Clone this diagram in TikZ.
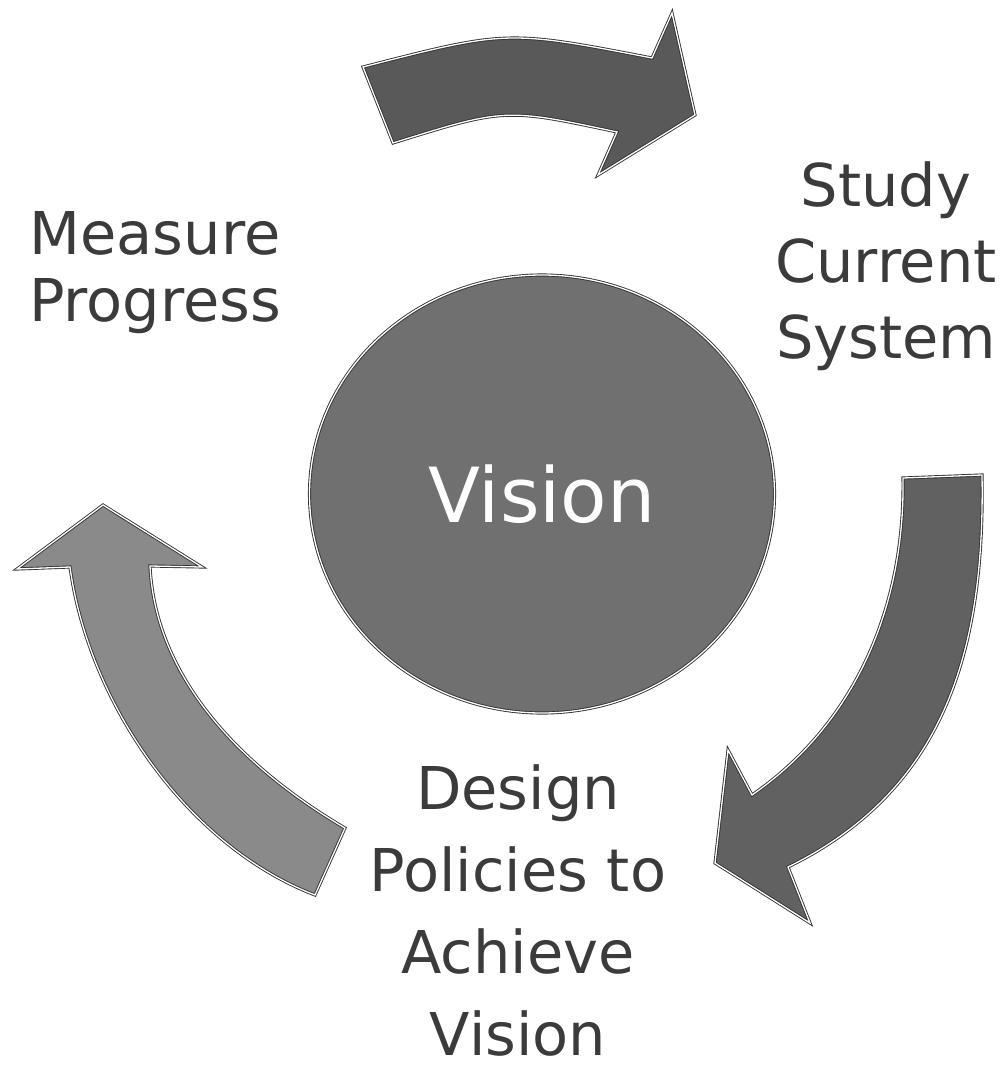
\documentclass[tikz,border=0pt]{standalone}
\usepackage{fontspec}
\setmainfont{DejaVu Sans}
\usepackage{tikz}
\usetikzlibrary{shapes.geometric}

\begin{document}
\begin{tikzpicture}[x=1pt,y=-1pt,
	cyclearrow/.style={draw=black!80,double=white,double distance=1.3pt,line width=0.9pt},
	steplabel/.style={text=black!77,align=center,inner sep=0pt,anchor=north}]
	\useasboundingbox (0,0) rectangle (1008,1073);
	% top arrow
	\path[cyclearrow,fill=black!65] (363,67) .. controls (507,30) .. (652,58) -- (672,13) -- (695,115) -- (598,175) -- (617,132) .. controls (505,108) .. (393,143) -- cycle;
	% right arrow
	\path[cyclearrow,fill=black!62] (903,478) -- (982,475) .. controls (985,650) and (945,790) .. (788,867) -- (810,923) -- (715,863) -- (728,750) -- (752,795) .. controls (860,720) and (905,600) .. (903,478) -- cycle;
	% left arrow
	\path[cyclearrow,fill=black!46] (103,505) -- (17,569) -- (70,567) .. controls (88,700) and (185,845) .. (315,895) -- (345,828) .. controls (230,760) and (155,670) .. (150,566) -- (202,567) -- cycle;
	\node[ellipse,cyclearrow,fill=black!56,minimum width=465pt,minimum height=438pt,inner sep=0pt,text=white,font=\fontsize{76}{76}\selectfont] (vision) at (542,494) {Vision};
	\node[steplabel,font=\fontsize{59}{67}\selectfont] (measure) at (155,211) {Measure\\Progress};
	\node[steplabel,font=\fontsize{59}{76}\selectfont] (study) at (886,161) {Study\\Current\\System};
	\node[steplabel,font=\fontsize{59}{82}\selectfont] (design) at (518,764) {Design\\Policies to\\Achieve\\Vision};
\end{tikzpicture}
\end{document}
